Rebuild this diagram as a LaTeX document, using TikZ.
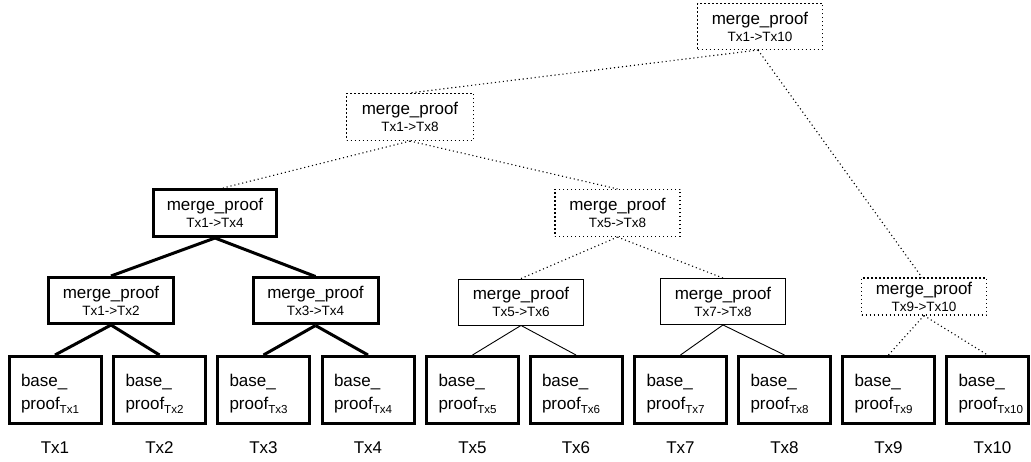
\documentclass[tikz,border=0pt]{standalone}
\usepackage{fontspec}
\setmainfont{Liberation Sans}
\newcommand\mfont{\fontsize{17}{17}\selectfont}
\newcommand\subf{\fontsize{13.5}{17}\selectfont}
\newcommand\basefont{\fontsize{17}{23}\selectfont}
\newcommand\sbx[1]{\raisebox{-3.5pt}{\fontsize{11.6}{12}\selectfont #1}}
\newcommand\bt[1]{\rule{0pt}{20pt}base\_\\proof\sbx{#1}}
\newcommand\mt[1]{merge\_proof\\{\subf #1}}
\tikzset{
  basebox/.style={draw, line width=3pt, minimum height=67pt, text width=68pt,
    inner xsep=12pt, inner ysep=0pt, align=left, font=\basefont},
  mbox/.style={draw, minimum width=125pt, minimum height=46pt, inner sep=0pt,
    align=center, font=\mfont},
  thickb/.style={line width=3pt},
  thinb/.style={line width=0.9pt},
  dotb/.style={line width=1.1pt, dash pattern=on 1.1pt off 2.9pt},
  lbl/.style={font=\mfont, anchor=base, inner sep=0pt},
}
\begin{document}
\begin{tikzpicture}[x=1pt,y=-1pt]
\useasboundingbox (0,0) rectangle (1031,462);
% base boxes
\node[basebox] (b1) at (55,390) {\bt{Tx1}};
\node[basebox] (b2) at (159.5,390) {\bt{Tx2}};
\node[basebox] (b3) at (263.5,390) {\bt{Tx3}};
\node[basebox] (b4) at (368,390) {\bt{Tx4}};
\node[basebox] (b5) at (472.5,390) {\bt{Tx5}};
\node[basebox] (b6) at (576,390) {\bt{Tx6}};
\node[basebox] (b7) at (680.5,390) {\bt{Tx7}};
\node[basebox] (b8) at (784.5,390) {\bt{Tx8}};
\node[basebox] (b9) at (888.5,390) {\bt{Tx9}};
\node[basebox, text width=58pt] (b10) at (987.5,390) {\bt{Tx10}};
% labels
\node[lbl] (t1) at ([yshift=-28.5pt]b1.south) {Tx1};
\node[lbl] (t2) at ([yshift=-28.5pt]b2.south) {Tx2};
\node[lbl] (t3) at ([yshift=-28.5pt]b3.south) {Tx3};
\node[lbl] (t4) at ([yshift=-28.5pt]b4.south) {Tx4};
\node[lbl] (t5) at ([yshift=-28.5pt]b5.south) {Tx5};
\node[lbl] (t6) at ([yshift=-28.5pt]b6.south) {Tx6};
\node[lbl] (t7) at ([yshift=-28.5pt]b7.south) {Tx7};
\node[lbl] (t8) at ([yshift=-28.5pt]b8.south) {Tx8};
\node[lbl] (t9) at ([yshift=-28.5pt]b9.south) {Tx9};
\node[lbl] (t10) at ([yshift=-28.5pt,xshift=5pt]b10.south) {Tx10};
% level 1 merges
\node[mbox, thickb] (a12) at (111,300.5) {\mt{Tx1->Tx2}};
\node[mbox, thickb] (a34) at (315.5,301) {\mt{Tx3->Tx4}};
\node[mbox, thinb] (a56) at (521,302) {\mt{Tx5->Tx6}};
\node[mbox, thinb] (a78) at (723,301.5) {\mt{Tx7->Tx8}};
\node[mbox, dotb, minimum height=37pt] (a910) at (924,296.5) {\mt{Tx9->Tx10}};
% level 2
\node[mbox, thickb, minimum width=123pt, minimum height=47pt] (b14) at (215,213) {\mt{Tx1->Tx4}};
\node[mbox, dotb, minimum height=47pt] (b58) at (617.5,213) {\mt{Tx5->Tx8}};
% level 3
\node[mbox, dotb, minimum width=127pt, minimum height=47pt] (c18) at (410,117) {\mt{Tx1->Tx8}};
% level 4
\node[mbox, dotb] (d110) at (760,26.5) {\mt{Tx1->Tx10}};
% connectors
\draw[thickb] (a12.south) -- (b1.north);
\draw[thickb] (a12.south) -- (b2.north);
\draw[thickb] (a34.south) -- (b3.north);
\draw[thickb] (a34.south) -- (b4.north);
\draw[thinb] (a56.south) -- (b5.north);
\draw[thinb] (a56.south) -- (b6.north);
\draw[thinb] (a78.south) -- (b7.north);
\draw[thinb] (a78.south) -- (b8.north);
\draw[dotb] (a910.south) -- (b9.north);
\draw[dotb] (a910.south) -- (b10.north);
\draw[thickb] (b14.south) -- (a12.north);
\draw[thickb] (b14.south) -- (a34.north);
\draw[dotb] (b58.south) -- (a56.north);
\draw[dotb] (b58.south) -- (a78.north);
\draw[dotb] (c18.south) -- ([xshift=8pt]b14.north);
\draw[dotb] (c18.south) -- (b58.north);
\draw[dotb] ([xshift=-2pt]d110.south) -- (c18.north);
\draw[dotb] ([xshift=-2pt]d110.south) -- ([xshift=-2pt]a910.north);
\end{tikzpicture}
\end{document}
